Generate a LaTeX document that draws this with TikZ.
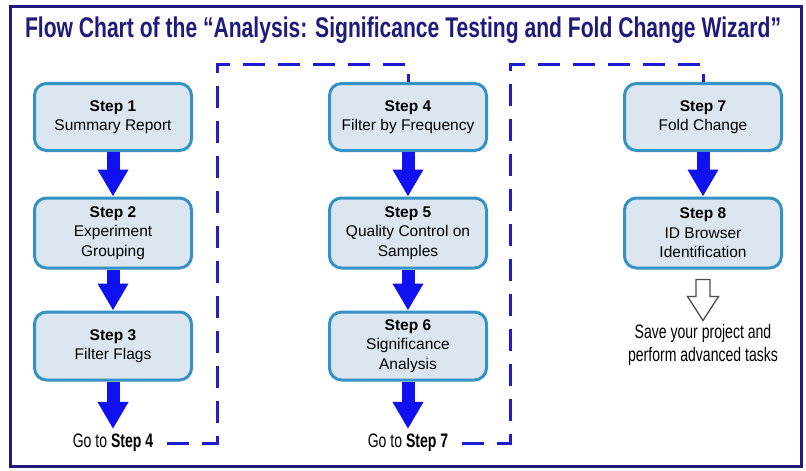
\documentclass[tikz,border=0pt]{standalone}
\usepackage{fontspec}
\setmainfont{Liberation Sans}
\newfontfamily\condfont[FakeStretch=0.72]{Liberation Sans}
\newfontfamily\titlefont[FakeStretch=0.74]{Liberation Sans}
\usetikzlibrary{arrows.meta}
\definecolor{navy}{HTML}{1E1B7A}
\definecolor{boxfill}{HTML}{DCE6F0}
\definecolor{boxline}{HTML}{3592C4}
\definecolor{flowblue}{HTML}{1010F0}
\definecolor{dashblue}{HTML}{1C1CD0}
\tikzset{
  stepbox/.style={draw=boxline, line width=3pt, fill=boxfill, rounded corners=12pt,
    minimum width=157pt, align=center, font=\fontsize{15.5}{19.5}\selectfont, inner sep=0pt},
  bigarrow/.style={draw=flowblue, line width=13pt,
    -{Triangle[width=29pt,length=27pt]}},
  dashline/.style={draw=dashblue, line width=3pt, dash pattern=on 22pt off 13pt},
  gotext/.style={font=\condfont\fontsize{19.5}{22}\selectfont, inner sep=0pt},
}
\begin{document}
\begin{tikzpicture}[x=1pt,y=-1pt]
\useasboundingbox (0,0) rectangle (806,471);
\fill[white] (0,0) rectangle (806,471);
\draw[navy, line width=3pt] (10,6) rectangle (801,466);
\node[font=\titlefont\bfseries\fontsize{28.5}{30}\selectfont, text=navy, inner sep=0pt] (title) at (403,30)
  {Flow Chart of the “Analysis: Significance Testing and Fold Change Wizard”};

\node[stepbox, minimum height=67pt] (s1) at (113,117) {\textbf{Step 1}\\Summary Report};
\node[stepbox, minimum height=70pt] (s2) at (113,233) {\textbf{Step 2}\\Experiment\\Grouping};
\node[stepbox, minimum height=68pt] (s3) at (113,346) {\textbf{Step 3}\\Filter Flags};
\node[gotext] (go4) at (113,443) {Go to \textbf{Step 4}};

\node[stepbox, minimum height=67pt] (s4) at (408,117) {\textbf{Step 4}\\Filter by Frequency};
\node[stepbox, minimum height=70pt] (s5) at (408,233) {\textbf{Step 5}\\Quality Control on\\Samples};
\node[stepbox, minimum height=68pt] (s6) at (408,346) {\textbf{Step 6}\\Significance\\Analysis};
\node[gotext] (go7) at (408,443) {Go to \textbf{Step 7}};

\node[stepbox, minimum height=67pt] (s7) at (703,117) {\textbf{Step 7}\\Fold Change};
\node[stepbox, minimum height=70pt] (s8) at (703,233) {\textbf{Step 8}\\ID Browser\\Identification};
\node[gotext, align=center, font=\condfont\fontsize{19.5}{22.5}\selectfont] (save) at (703,345)
  {Save your project and\\perform advanced tasks};

\draw[bigarrow] (s1.south) -- (s2.north);
\draw[bigarrow] (s2.south) -- (s3.north);
\draw[bigarrow] (s3.south) -- ([yshift=5pt]go4.north);
\draw[bigarrow] (s4.south) -- (s5.north);
\draw[bigarrow] (s5.south) -- (s6.north);
\draw[bigarrow] (s6.south) -- ([yshift=5pt]go7.north);
\draw[bigarrow] (s7.south) -- (s8.north);

\coordinate (c1) at (217,64);
\coordinate (c2) at (510,64);
\draw[dashline] ([xshift=14pt]go4.east) -| (c1) -| (s4.north);
\draw[dashline] ([xshift=14pt]go7.east) -| (c2) -| (s7.north);

% hollow arrow
\coordinate (h) at ([yshift=-10pt]s8.south);
\draw[gray!60!black, fill=white, line width=1.3pt, line join=miter]
  ([xshift=-7pt]h) -- ([xshift=7pt]h) -- ([xshift=7pt,yshift=-17pt]h) -- ([xshift=15.5pt,yshift=-17pt]h)
  -- ([yshift=-41pt]h) -- ([xshift=-15.5pt,yshift=-17pt]h) -- ([xshift=-7pt,yshift=-17pt]h) -- cycle;
\end{tikzpicture}
\end{document}
